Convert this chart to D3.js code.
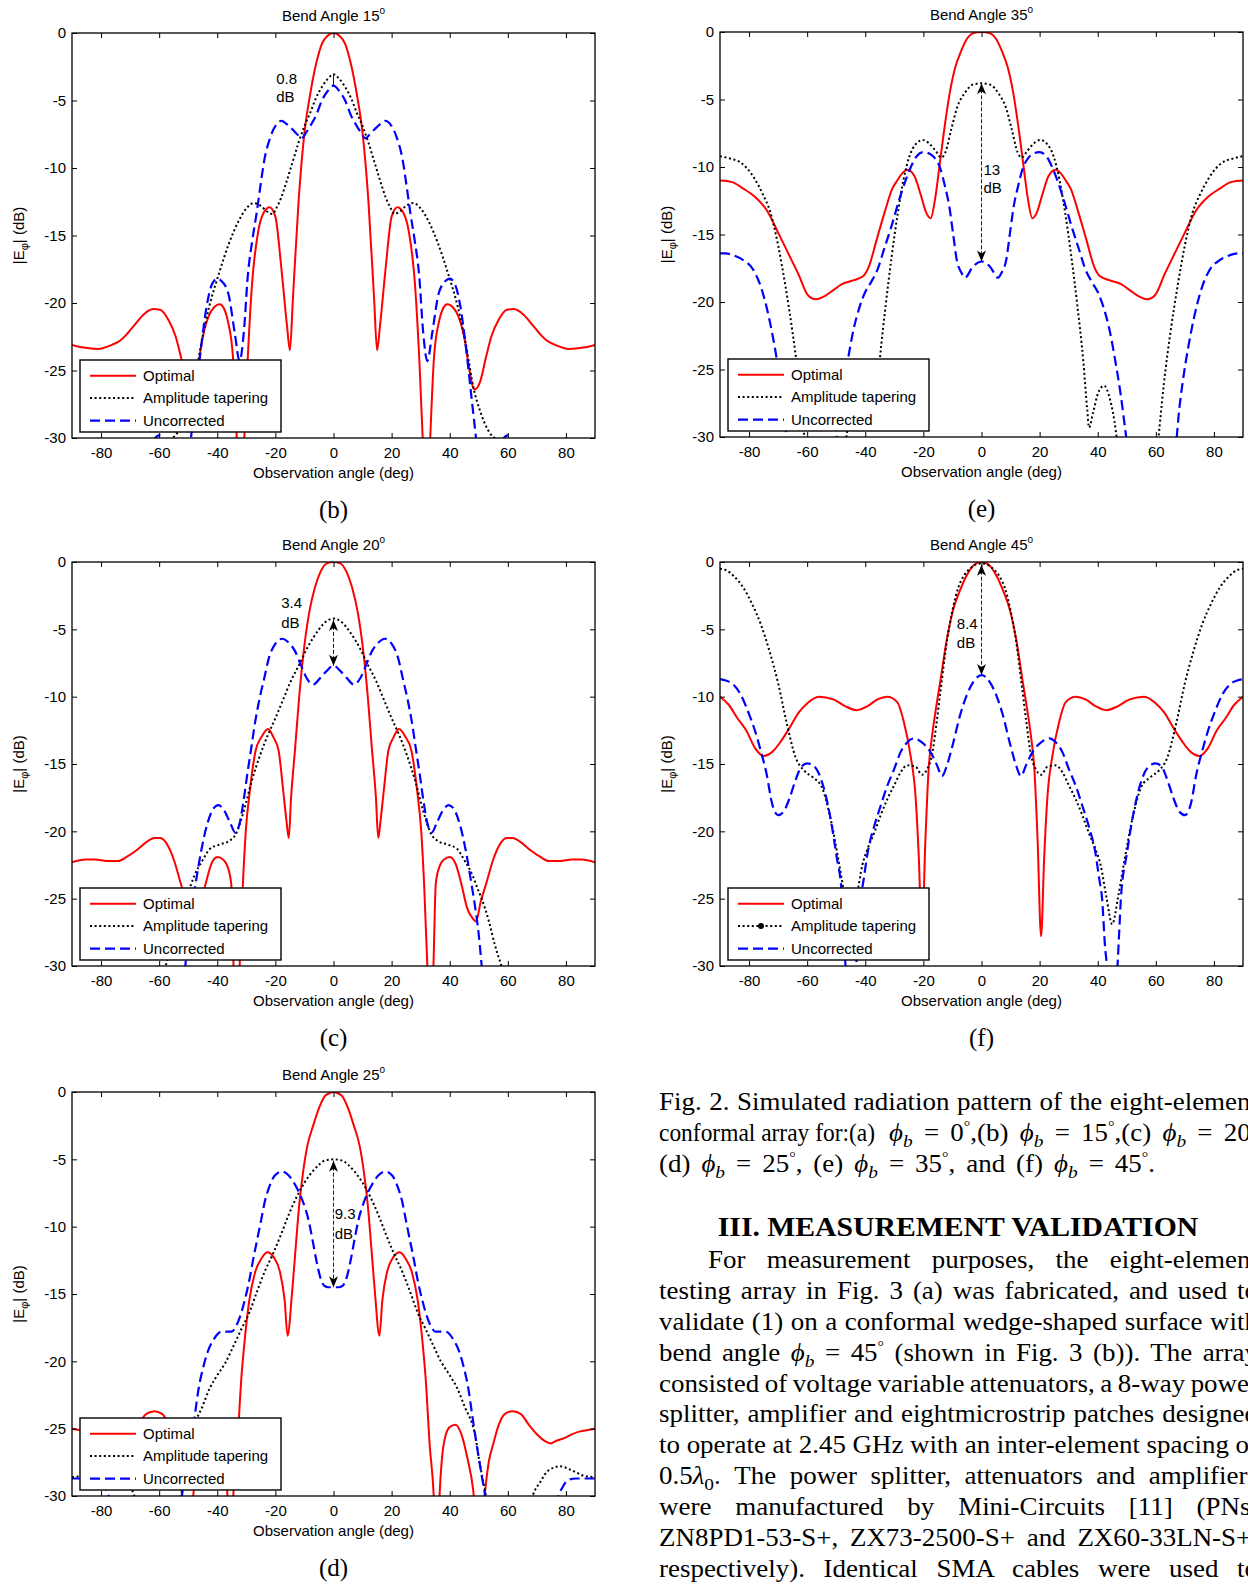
<!DOCTYPE html>
<html>
<head>
<meta charset="utf-8">
<script src="https://cdn.jsdelivr.net/npm/d3@7"></script>
<style>
  body { margin: 0; background: #fff; }
  svg text { font-family: "Liberation Sans", Arial, sans-serif; }
  svg text.serif, svg .serif text { font-family: "Liberation Serif", "Times New Roman", serif; }
</style>
</head>
<body>
<svg id="page" width="1248" height="1585"></svg>
<script>
/* axis ticks */
const xTicks = [-80, -60, -40, -20, 0, 20, 40, 60, 80];
const yTicks = [-30, -25, -20, -15, -10, -5, 0];
const legendNames = ["Optimal", "Amplitude tapering", "Uncorrected"];

/* Bend angle 15 (b)  [deg, dB] */
const optimal15 = [[-90,-23.1],[-86,-23.3],[-81,-23.4],[-76.3,-23.1],[-73.5,-22.8],[-71.5,-22.4],[-68.6,-21.65],[-65.6,-20.9],[-62,-20.45],[-59.7,-20.5],[-56.7,-21.3],[-54.3,-22.5],[-52.5,-24],[-50.5,-25.8],[-48.5,-26.4],[-46.5,-24.6],[-45.4,-23],[-43,-21],[-41,-20.3],[-39.2,-20.1],[-37.5,-20.5],[-36.4,-21.3],[-34.6,-24],[-33.3,-30],[-32,-38],[-30.7,-30],[-29.6,-24.5],[-28,-18.5],[-26,-14.8],[-24,-13.3],[-22,-12.9],[-20,-13.6],[-18,-17.3],[-16,-21.7],[-15,-23.5],[-14,-19.8],[-12,-12.4],[-10,-7.4],[-8,-4.5],[-6,-2.3],[-4,-0.8],[-2,-0.2],[0,0],[2,-0.2],[4,-0.8],[6,-2.3],[8,-4.5],[10,-7.4],[12,-12.4],[14,-19.8],[15,-23.5],[16,-21.7],[18,-17.3],[20,-13.6],[22,-12.9],[24,-13.3],[26,-14.8],[28,-18.5],[29.6,-24.5],[30.7,-30],[32,-38],[33.3,-30],[34.6,-24],[36.4,-21.3],[37.5,-20.5],[39.2,-20.1],[41,-20.3],[43,-21],[45.4,-23],[46.5,-24.6],[48.5,-26.4],[50.5,-25.8],[52.5,-24],[54.3,-22.5],[56.7,-21.3],[59.7,-20.5],[62,-20.45],[65.6,-20.9],[68.6,-21.65],[71.5,-22.4],[73.5,-22.8],[76.3,-23.1],[81,-23.4],[86,-23.3],[90,-23.1]];
const amplitude15 = [[-90,-45],[-70,-40],[-64,-33],[-60,-30.5],[-56,-30.1],[-53.7,-29.6],[-50.3,-27.9],[-48.3,-26.4],[-45.5,-23],[-42.8,-20.3],[-39.4,-17.8],[-36,-15.6],[-32.6,-13.9],[-30,-13],[-27.5,-12.6],[-25,-12.8],[-23,-13.2],[-21,-13.4],[-19.5,-12.9],[-18,-12.2],[-16,-10.9],[-14,-9.5],[-12,-8.1],[-10,-6.9],[-8,-5.9],[-6,-4.8],[-4,-4.0],[-2,-3.4],[0,-3.06],[2,-3.4],[4,-4.0],[6,-4.8],[8,-5.9],[10,-6.9],[12,-8.1],[14,-9.5],[16,-10.9],[18,-12.2],[19.5,-12.9],[21,-13.4],[23,-13.2],[25,-12.8],[27.5,-12.6],[30,-13],[32.6,-13.9],[36,-15.6],[39.4,-17.8],[42.8,-20.3],[45.5,-23],[48.3,-26.4],[50.3,-27.9],[53.7,-29.6],[56,-30.1],[60,-30.5],[64,-33],[70,-40],[90,-45]];
const uncorrected15 = [[-90,-45],[-70,-40],[-65,-33],[-62,-30.2],[-60,-29.8],[-58,-30.2],[-55,-33],[-52,-36],[-50,-32],[-49,-29.9],[-47.6,-27.2],[-45.7,-23.5],[-43.7,-20.3],[-41.8,-18.6],[-40,-18.2],[-38.9,-18.3],[-36.2,-19.3],[-34,-22.2],[-32.3,-24.3],[-30.8,-22],[-29.5,-18],[-27.9,-15.3],[-26.5,-13.4],[-25.2,-11.4],[-23.8,-9.4],[-21.7,-7.7],[-19.7,-6.8],[-17.8,-6.5],[-17,-6.6],[-14.3,-7.1],[-12.5,-7.5],[-11,-7.8],[-9.5,-7.4],[-7.5,-6.7],[-6,-6.1],[-4,-5.0],[-2,-4.3],[0,-3.9],[2,-4.3],[4,-5.0],[6,-6.1],[7.5,-6.7],[9.5,-7.4],[11,-7.8],[12.5,-7.5],[14.3,-7.1],[17,-6.6],[17.8,-6.5],[19.7,-6.8],[21.7,-7.7],[23.8,-9.4],[25.2,-11.4],[26.5,-13.4],[27.9,-15.3],[29.5,-18],[30.8,-22],[32.3,-24.3],[34,-22.2],[36.2,-19.3],[38.9,-18.3],[40,-18.2],[41.8,-18.6],[43.7,-20.3],[45.7,-23.5],[47.6,-27.2],[49,-29.9],[50,-32],[52,-36],[55,-33],[58,-30.2],[60,-29.8],[62,-30.2],[65,-33],[70,-40],[90,-45]];

/* Bend angle 20 (c) */
const optimal20 = [[-90,-22.3],[-85.4,-22.1],[-82,-22.1],[-78,-22.2],[-74,-22.2],[-71.2,-21.9],[-67.8,-21.4],[-64.4,-20.8],[-61.6,-20.5],[-59.6,-20.5],[-56.9,-21.1],[-54.8,-22.2],[-52.8,-23.7],[-50.7,-25.2],[-49,-26.7],[-48,-26.5],[-46,-25.7],[-44,-23.9],[-42,-22.4],[-40,-21.9],[-38,-22.1],[-36.5,-22.6],[-35.2,-23.9],[-34.4,-30],[-33.3,-36],[-32.3,-30],[-31.2,-24],[-30.2,-20],[-28.8,-17],[-26.8,-14],[-24.8,-13],[-22.5,-12.4],[-20.7,-13],[-18.9,-14],[-17.3,-17],[-16.2,-19.2],[-15.4,-20.5],[-14.6,-17.5],[-13.2,-13.8],[-11.8,-10],[-10.5,-7.1],[-8.4,-3.8],[-6.4,-1.9],[-4.4,-0.7],[-2.3,-0.1],[0,0],[2.3,-0.1],[4.4,-0.7],[6.4,-1.9],[8.4,-3.8],[10.5,-7.1],[11.8,-10],[13.2,-13.8],[14.6,-17.5],[15.4,-20.5],[16.2,-19.2],[17.3,-17],[18.9,-14],[20.7,-13],[22.5,-12.4],[24.8,-13],[26.8,-14],[28.8,-17],[30.2,-20],[31.2,-24],[32.3,-30],[33.3,-36],[34.4,-30],[35.2,-23.9],[36.5,-22.6],[38,-22.1],[40,-21.9],[42,-22.4],[44,-23.9],[46,-25.7],[48,-26.5],[49,-26.7],[50.7,-25.2],[52.8,-23.7],[54.8,-22.2],[56.9,-21.1],[59.6,-20.5],[61.6,-20.5],[64.4,-20.8],[67.8,-21.4],[71.2,-21.9],[74,-22.2],[78,-22.2],[82,-22.1],[85.4,-22.1],[90,-22.3]];
const amplitude20 = [[-90,-45],[-65,-35],[-60,-31.5],[-57.8,-30],[-55.5,-28.4],[-53.5,-26.7],[-51,-25],[-49.5,-24.2],[-47.9,-23.3],[-45.2,-22.2],[-42.5,-21.3],[-39.5,-21],[-35.8,-20.7],[-33.6,-20.2],[-30.9,-18.5],[-28.2,-16.3],[-25.2,-14.3],[-22.5,-12.8],[-20,-11.6],[-17.3,-10.2],[-14.6,-8.8],[-11.5,-7.5],[-9.1,-6.4],[-7.2,-5.7],[-5,-5.0],[-3,-4.5],[0,-4.2],[3,-4.5],[5,-5.0],[7.2,-5.7],[9.1,-6.4],[11.5,-7.5],[14.6,-8.8],[17.3,-10.2],[20,-11.6],[22.5,-12.8],[25.2,-14.3],[28.2,-16.3],[30.9,-18.5],[33.6,-20.2],[35.8,-20.7],[39.5,-21],[42.5,-21.3],[45.2,-22.2],[47.9,-23.3],[49.5,-24.2],[51,-25],[53.5,-26.7],[55.5,-28.4],[57.8,-30],[60,-31.5],[65,-35],[90,-45]];
const uncorrected20 = [[-90,-45],[-55,-40],[-52.5,-34],[-51,-30],[-49.9,-27.5],[-48.8,-25.7],[-47.4,-23.8],[-45.5,-21.4],[-43.5,-19.5],[-41.3,-18.3],[-39.6,-18.05],[-37.5,-18.5],[-35.5,-19.4],[-33.8,-20.1],[-32.3,-19.4],[-31,-17.8],[-29.7,-15.8],[-28.3,-13.8],[-26.9,-11.8],[-25.5,-10.2],[-23.8,-8.6],[-22.2,-7.1],[-20.1,-6.1],[-17.7,-5.7],[-15.4,-6.0],[-13.3,-6.6],[-11.3,-7.6],[-9.3,-8.6],[-7,-9.1],[-4.5,-8.6],[-2.4,-8.1],[0,-7.7],[2.4,-8.1],[4.5,-8.6],[7,-9.1],[9.3,-8.6],[11.3,-7.6],[13.3,-6.6],[15.4,-6.0],[17.7,-5.7],[20.1,-6.1],[22.2,-7.1],[23.8,-8.6],[25.5,-10.2],[26.9,-11.8],[28.3,-13.8],[29.7,-15.8],[31,-17.8],[32.3,-19.4],[33.8,-20.1],[35.5,-19.4],[37.5,-18.5],[39.6,-18.05],[41.3,-18.3],[43.5,-19.5],[45.5,-21.4],[47.4,-23.8],[48.8,-25.7],[49.9,-27.5],[51,-30],[52.5,-34],[55,-40],[90,-45]];

/* Bend angle 25 (d) */
const optimal25 = [[-90,-25],[-87.6,-25.1],[-84.9,-25.2],[-82.2,-25.4],[-79.4,-25.7],[-76.7,-25.9],[-74.7,-26.1],[-72.6,-25.9],[-69.9,-25.4],[-67.2,-24.7],[-64.4,-23.9],[-61.7,-23.7],[-59,-23.9],[-56.9,-24.7],[-54.9,-26.2],[-53.5,-27.4],[-52.2,-29.6],[-50.8,-33],[-49.5,-33],[-48.1,-29.6],[-46,-27.1],[-44,-25.4],[-42,-24.7],[-39.9,-24.9],[-37.9,-26.2],[-36.5,-30],[-35.5,-36],[-34.5,-30],[-33.1,-26.2],[-31.7,-21.2],[-30.6,-18.5],[-29,-15.5],[-27,-13.4],[-24.9,-12.4],[-22.8,-11.9],[-20.5,-12.3],[-18.5,-13.3],[-16.8,-15.5],[-15.8,-18.1],[-14.3,-15],[-13,-11.5],[-11.8,-8.4],[-10.5,-6.0],[-9,-4.0],[-7,-2.5],[-5,-1.2],[-3,-0.3],[-1.5,-0.1],[0,0],[1.5,-0.1],[3,-0.3],[5,-1.2],[7,-2.5],[9,-4.0],[10.5,-6.0],[11.8,-8.4],[13,-11.5],[14.3,-15],[15.8,-18.1],[16.8,-15.5],[18.5,-13.3],[20.5,-12.3],[22.8,-11.9],[24.9,-12.4],[27,-13.4],[29,-15.5],[30.6,-18.5],[31.7,-21.2],[33.1,-26.2],[34.5,-30],[35.5,-36],[36.5,-30],[37.9,-26.2],[39.9,-24.9],[42,-24.7],[44,-25.4],[46,-27.1],[48.1,-29.6],[49.5,-33],[50.8,-33],[52.2,-29.6],[53.5,-27.4],[54.9,-26.2],[56.9,-24.7],[59,-23.9],[61.7,-23.7],[64.4,-23.9],[67.2,-24.7],[69.9,-25.4],[72.6,-25.9],[74.7,-26.1],[76.7,-25.9],[79.4,-25.7],[82.2,-25.4],[84.9,-25.2],[87.6,-25.1],[90,-25]];
const amplitude25 = [[-90,-28.6],[-86.2,-28.5],[-82.1,-28.1],[-78,-27.8],[-74,-28.1],[-71.3,-28.9],[-68.5,-30],[-65,-33],[-60,-36],[-55,-33],[-52.5,-30],[-51.5,-28.9],[-50.1,-27.3],[-48.8,-25.5],[-47.5,-24.5],[-45.4,-23.5],[-42.6,-22],[-39.9,-21],[-37.2,-20.1],[-34.5,-18.9],[-31.7,-17.6],[-29,-16.4],[-26.3,-14.8],[-23.6,-13.3],[-20.8,-12],[-18.1,-10.6],[-15.4,-9.1],[-12.7,-7.8],[-9.9,-6.7],[-7.2,-5.9],[-5,-5.4],[-3.1,-5.1],[0,-5.0],[3.1,-5.1],[5,-5.4],[7.2,-5.9],[9.9,-6.7],[12.7,-7.8],[15.4,-9.1],[18.1,-10.6],[20.8,-12],[23.6,-13.3],[26.3,-14.8],[29,-16.4],[31.7,-17.6],[34.5,-18.9],[37.2,-20.1],[39.9,-21],[42.6,-22],[45.4,-23.5],[47.5,-24.5],[48.8,-25.5],[50.1,-27.3],[51.5,-28.9],[52.5,-30],[55,-33],[60,-36],[65,-33],[68.5,-30],[71.3,-28.9],[74,-28.1],[78,-27.8],[82.1,-28.1],[86.2,-28.5],[90,-28.6]];
const uncorrected25 = [[-90,-28.7],[-83.5,-28.7],[-80.8,-28.8],[-78.7,-29.4],[-77.4,-30],[-74,-36],[-65,-40],[-55,-36],[-52.2,-30],[-51.1,-28.6],[-49.5,-26.5],[-47.6,-23.8],[-46.4,-22],[-44.9,-20.5],[-43.3,-19.3],[-41.3,-18.4],[-38.6,-17.8],[-35.1,-17.8],[-33.8,-17.5],[-32.2,-16.7],[-30.6,-15.5],[-29,-14],[-27.7,-12.5],[-26.3,-11],[-24.9,-9.5],[-23.6,-8.1],[-22.2,-7.1],[-20.2,-6.2],[-17.8,-5.9],[-15.4,-6.2],[-12.7,-7.1],[-10.6,-8.1],[-8.6,-9.5],[-7.2,-11],[-5.9,-12.5],[-4.5,-13.8],[-3.1,-14.4],[-1.8,-14.5],[0,-14.5],[1.8,-14.5],[3.1,-14.4],[4.5,-13.8],[5.9,-12.5],[7.2,-11],[8.6,-9.5],[10.6,-8.1],[12.7,-7.1],[15.4,-6.2],[17.8,-5.9],[20.2,-6.2],[22.2,-7.1],[23.6,-8.1],[24.9,-9.5],[26.3,-11],[27.7,-12.5],[29,-14],[30.6,-15.5],[32.2,-16.7],[33.8,-17.5],[35.1,-17.8],[38.6,-17.8],[41.3,-18.4],[43.3,-19.3],[44.9,-20.5],[46.4,-22],[47.6,-23.8],[49.5,-26.5],[51.1,-28.6],[52.2,-30],[55,-36],[65,-40],[74,-36],[77.4,-30],[78.7,-29.4],[80.8,-28.8],[83.5,-28.7],[90,-28.7]];

/* Bend angle 35 (e) */
const optimal35 = [[-90,-11],[-86.1,-11.1],[-82,-11.6],[-78,-12.2],[-73.9,-13.2],[-69.9,-14.9],[-66.5,-16.4],[-63.1,-17.9],[-59.7,-19.5],[-57,-19.8],[-54.3,-19.6],[-50.9,-19.1],[-48.2,-18.7],[-44.2,-18.4],[-40.8,-18.1],[-38.8,-17.4],[-36.1,-15.4],[-33.4,-13.4],[-30.7,-11.6],[-29,-11],[-27,-10.4],[-25.5,-10.2],[-23,-10.7],[-21,-12],[-19,-13.4],[-17.5,-13.8],[-16,-12.4],[-14.5,-10],[-13,-7.5],[-11,-4.6],[-9,-2.6],[-7,-1.4],[-5,-0.5],[-3,-0.1],[0,0],[3,-0.1],[5,-0.5],[7,-1.4],[9,-2.6],[11,-4.6],[13,-7.5],[14.5,-10],[16,-12.4],[17.5,-13.8],[19,-13.4],[21,-12],[23,-10.7],[25.5,-10.2],[27,-10.4],[29,-11],[30.7,-11.6],[33.4,-13.4],[36.1,-15.4],[38.8,-17.4],[40.8,-18.1],[44.2,-18.4],[48.2,-18.7],[50.9,-19.1],[54.3,-19.6],[57,-19.8],[59.7,-19.5],[63.1,-17.9],[66.5,-16.4],[69.9,-14.9],[73.9,-13.2],[78,-12.2],[82,-11.6],[86.1,-11.1],[90,-11]];
const amplitude35 = [[-90,-9.2],[-86.1,-9.4],[-83.4,-9.6],[-80.7,-10.1],[-78,-10.9],[-75.3,-12],[-72.6,-13.4],[-70,-15.8],[-67.5,-18.8],[-65,-22.3],[-62.8,-26],[-61.3,-29.2],[-60.5,-31],[-58,-36],[-55,-40],[-50,-38],[-47.5,-32],[-46.2,-29.5],[-44.2,-27.2],[-42.2,-26.2],[-40.2,-26.7],[-38.4,-28.2],[-37,-29.3],[-36.4,-28],[-35,-24.3],[-32.9,-20.1],[-30.9,-16.6],[-28.8,-13.4],[-26.8,-10.9],[-24.8,-9.2],[-22.6,-8.3],[-20.2,-8.0],[-17.8,-8.3],[-15.8,-8.8],[-13.8,-9.3],[-12.4,-8.9],[-10.4,-7.2],[-8.4,-5.6],[-5.7,-4.5],[-3,-3.9],[0,-3.8],[3,-3.9],[5.7,-4.5],[8.4,-5.6],[10.4,-7.2],[12.4,-8.9],[13.8,-9.3],[15.8,-8.8],[17.8,-8.3],[20.2,-8.0],[22.6,-8.3],[24.8,-9.2],[26.8,-10.9],[28.8,-13.4],[30.9,-16.6],[32.9,-20.1],[35,-24.3],[36.4,-28],[37,-29.3],[38.4,-28.2],[40.2,-26.7],[42.2,-26.2],[44.2,-27.2],[46.2,-29.5],[47.5,-32],[50,-38],[55,-40],[58,-36],[60.5,-31],[61.3,-29.2],[62.8,-26],[65,-22.3],[67.5,-18.8],[70,-15.8],[72.6,-13.4],[75.3,-12],[78,-10.9],[80.7,-10.1],[83.4,-9.6],[86.1,-9.4],[90,-9.2]];
const uncorrected35 = [[-90,-16.4],[-88.1,-16.4],[-84.7,-16.6],[-82,-16.9],[-78.6,-17.6],[-75.9,-18.9],[-73.2,-21.1],[-71.2,-23.3],[-69.2,-26],[-67.8,-28.5],[-67.2,-30],[-65,-35],[-58,-40],[-52,-35],[-50.4,-31],[-49.5,-29.5],[-48,-27],[-46,-24.3],[-44,-22],[-42,-20.4],[-40.1,-19.3],[-38.2,-18.6],[-35.8,-17.6],[-33.4,-16],[-31,-14.4],[-28.7,-12.7],[-26.3,-11.1],[-24.3,-10],[-22.3,-9.2],[-20,-8.9],[-18,-9.0],[-16.2,-9.3],[-14.2,-10.1],[-12.5,-11.5],[-11.1,-12.9],[-9.8,-14.9],[-8.5,-16.9],[-7,-17.8],[-5.7,-18.2],[-3,-17.4],[0,-17],[3,-17.4],[5.7,-18.2],[7,-17.8],[8.5,-16.9],[9.8,-14.9],[11.1,-12.9],[12.5,-11.5],[14.2,-10.1],[16.2,-9.3],[18,-9.0],[20,-8.9],[22.3,-9.2],[24.3,-10],[26.3,-11.1],[28.7,-12.7],[31,-14.4],[33.4,-16],[35.8,-17.6],[38.2,-18.6],[40.1,-19.3],[42,-20.4],[44,-22],[46,-24.3],[48,-27],[49.5,-29.5],[50.4,-31],[52,-35],[58,-40],[65,-35],[67.2,-30],[67.8,-28.5],[69.2,-26],[71.2,-23.3],[73.2,-21.1],[75.9,-18.9],[78.6,-17.6],[82,-16.9],[84.7,-16.6],[88.1,-16.4],[90,-16.4]];

/* Bend angle 45 (f) */
const optimal45 = [[-90,-10],[-87,-10.6],[-84,-11.6],[-81,-12.5],[-78,-13.8],[-75,-14.4],[-72,-14.1],[-69,-13.3],[-66,-12.3],[-63,-11.2],[-60,-10.5],[-56,-10],[-51,-10.2],[-47,-10.7],[-43,-11],[-39.2,-10.7],[-35.8,-10.2],[-32.4,-10],[-29,-10.4],[-26.7,-11.9],[-24.4,-14.4],[-22.7,-17.4],[-21.6,-21.8],[-20.5,-27.8],[-19.3,-20.6],[-18.2,-15.4],[-17,-12.9],[-15.9,-11.2],[-14.2,-8.9],[-11.9,-5.7],[-9.7,-3.5],[-7.4,-2.1],[-5.1,-1.0],[-2.5,-0.2],[0,0],[2.5,-0.2],[5.1,-1.0],[7.4,-2.1],[9.7,-3.5],[11.9,-5.7],[14.2,-8.9],[15.9,-11.2],[17,-12.9],[18.2,-15.4],[19.3,-20.6],[20.5,-27.8],[21.6,-21.8],[22.7,-17.4],[24.4,-14.4],[26.7,-11.9],[29,-10.4],[32.4,-10],[35.8,-10.2],[39.2,-10.7],[43,-11],[47,-10.7],[51,-10.2],[56,-10],[60,-10.5],[63,-11.2],[66,-12.3],[69,-13.3],[72,-14.1],[75,-14.4],[78,-13.8],[81,-12.5],[84,-11.6],[87,-10.6],[90,-10]];
const amplitude45 = [[-90,-0.5],[-88,-0.6],[-85,-1.1],[-82,-1.9],[-79,-3.1],[-76,-4.6],[-73,-6.6],[-70,-9],[-67,-12],[-64,-14.5],[-61,-15.5],[-58,-16],[-55,-16.7],[-52,-19],[-49,-22.4],[-47,-24.9],[-45,-26.9],[-43,-24.9],[-41,-22.5],[-39.2,-21.3],[-36.9,-20.1],[-34.7,-18.8],[-32.4,-17.6],[-30.1,-16.6],[-27.8,-15.6],[-25.6,-15.1],[-22.7,-15.2],[-20.5,-15.8],[-18.75,-15.4],[-17,-14.3],[-15.5,-12],[-14,-9.4],[-12,-6.0],[-10,-3.6],[-8,-1.9],[-6,-1.0],[-4,-0.5],[-2,-0.2],[0,-0.1],[2,-0.2],[4,-0.5],[6,-1.0],[8,-1.9],[10,-3.6],[12,-6.0],[14,-9.4],[15.5,-12],[17,-14.3],[18.75,-15.4],[20.5,-15.8],[22.7,-15.2],[25.6,-15.1],[27.8,-15.6],[30.1,-16.6],[32.4,-17.6],[34.7,-18.8],[36.9,-20.1],[39.2,-21.3],[41,-22.5],[43,-24.9],[45,-26.9],[47,-24.9],[49,-22.4],[52,-19],[55,-16.7],[58,-16],[61,-15.5],[64,-14.5],[67,-12],[70,-9],[73,-6.6],[76,-4.6],[79,-3.1],[82,-1.9],[85,-1.1],[88,-0.6],[90,-0.5]];
const uncorrected45 = [[-90,-8.7],[-88,-8.8],[-86,-9],[-83,-9.8],[-80,-11.3],[-78,-12.5],[-76,-14],[-74,-15.7],[-72,-18],[-70,-18.8],[-68,-18.5],[-66,-17.5],[-64,-16.2],[-62,-15.2],[-60,-14.95],[-58,-15.1],[-56,-15.7],[-54,-17],[-52,-19],[-50,-21.7],[-48,-24.9],[-47.5,-27],[-46.8,-30],[-45,-34],[-43.2,-30],[-42.5,-28.5],[-41.5,-25],[-40.5,-23.5],[-39.2,-21.6],[-36.9,-19.6],[-34.7,-18.1],[-32.4,-16.6],[-30.1,-15.4],[-27.8,-14.1],[-25.6,-13.4],[-23.3,-13.1],[-20.5,-13.4],[-17.6,-14.1],[-15.3,-15.1],[-13.6,-15.9],[-11.9,-15.1],[-9.7,-13.4],[-7.4,-11.4],[-5.1,-9.9],[-2.8,-8.9],[0,-8.4],[2.8,-8.9],[5.1,-9.9],[7.4,-11.4],[9.7,-13.4],[11.9,-15.1],[13.6,-15.9],[15.3,-15.1],[17.6,-14.1],[20.5,-13.4],[23.3,-13.1],[25.6,-13.4],[27.8,-14.1],[30.1,-15.4],[32.4,-16.6],[34.7,-18.1],[36.9,-19.6],[39.2,-21.6],[40.5,-23.5],[41.5,-25],[42.5,-28.5],[43.2,-30],[45,-34],[46.8,-30],[47.5,-27],[48,-24.9],[50,-21.7],[52,-19],[54,-17],[56,-15.7],[58,-15.1],[60,-14.95],[62,-15.2],[64,-16.2],[66,-17.5],[68,-18.5],[70,-18.8],[72,-18],[74,-15.7],[76,-14],[78,-12.5],[80,-11.3],[83,-9.8],[86,-9],[88,-8.8],[90,-8.7]];

/* difference annotations: label, text anchor [deg, dB], arrow ends [dB] */
const notes = {
  b: { label: "0.8", at: [-19.7, -3.4], dbAt: -4.7, arrow: [-3.1, -3.9], heads: false },
  c: { label: "3.4", at: [-18, -3.05], dbAt: -4.5, arrow: [-4.3, -7.7], heads: true },
  d: { label: "9.3", at: [0.4, -9.05], dbAt: -10.5, arrow: [-5.1, -14.5], heads: true },
  e: { label: "13", at: [0.7, -10.2], dbAt: -11.5, arrow: [-3.8, -17], heads: true },
  f: { label: "8.4", at: [-8.5, -4.6], dbAt: -6, arrow: [-0.2, -8.4], heads: true }
};

const panels = [
  { id: "b", angle: 15, x: 72, y: 33, w: 523, h: 405, series: [optimal15, amplitude15, uncorrected15] },
  { id: "e", angle: 35, x: 720, y: 32, w: 523, h: 405, series: [optimal35, amplitude35, uncorrected35] },
  { id: "c", angle: 20, x: 72, y: 562, w: 523, h: 404, series: [optimal20, amplitude20, uncorrected20] },
  { id: "f", angle: 45, x: 720, y: 562, w: 523, h: 404, series: [optimal45, amplitude45, uncorrected45], marker: true },
  { id: "d", angle: 25, x: 72, y: 1092, w: 523, h: 404, series: [optimal25, amplitude25, uncorrected25] }
];

const styles = [
  { stroke: "#ff0000", width: 2, dash: null },
  { stroke: "#000000", width: 2, dash: "2,2.6" },
  { stroke: "#0000ff", width: 2.2, dash: "10,5" }
];

const svg = d3.select("#page");
svg.append("rect").attr("width", 1248).attr("height", 1585).attr("fill", "#fff");
const defs = svg.append("defs");

function arrowHead(g, x, y, down) {
  g.append("path")
    .attr("d", "M0,0 L-4.5,11 L0,8 L4.5,11 Z")
    .attr("transform", `translate(${x},${y}) rotate(${down ? 180 : 0})`)
    .attr("fill", "#000");
}

function drawPanel(p) {
  const x = d3.scaleLinear().domain([-90, 90]).range([p.x, p.x + p.w]);
  const y = d3.scaleLinear().domain([-30, 0]).range([p.y + p.h, p.y]);
  const g = svg.append("g");

  defs.append("clipPath").attr("id", "clip-" + p.id)
    .append("rect").attr("x", p.x).attr("y", p.y).attr("width", p.w).attr("height", p.h);

  /* curves */
  const line = d3.line().x(d => x(d[0])).y(d => y(d[1])).curve(d3.curveMonotoneX);
  const plot = g.append("g").attr("clip-path", `url(#clip-${p.id})`);
  p.series.forEach((s, i) => {
    plot.append("path").datum(s)
      .attr("d", line)
      .attr("fill", "none")
      .attr("stroke", styles[i].stroke)
      .attr("stroke-width", styles[i].width)
      .attr("stroke-dasharray", styles[i].dash)
      .attr("stroke-linejoin", "round");
  });

  /* axes, ticks pointing inward on all four sides */
  const fmt = d => String(d);
  const axes = [
    g.append("g").attr("transform", `translate(0,${p.y + p.h})`)
      .call(d3.axisBottom(x).tickValues(xTicks).tickSizeInner(-5).tickSizeOuter(0).tickPadding(9).tickFormat(fmt)),
    g.append("g").attr("transform", `translate(0,${p.y})`)
      .call(d3.axisTop(x).tickValues(xTicks).tickSizeInner(-5).tickSizeOuter(0).tickFormat("")),
    g.append("g").attr("transform", `translate(${p.x},0)`)
      .call(d3.axisLeft(y).tickValues(yTicks).tickSizeInner(-5).tickSizeOuter(0).tickPadding(6).tickFormat(fmt)),
    g.append("g").attr("transform", `translate(${p.x + p.w},0)`)
      .call(d3.axisRight(y).tickValues(yTicks).tickSizeInner(-5).tickSizeOuter(0).tickFormat(""))
  ];
  axes.forEach(a => {
    a.attr("font-family", null).attr("font-size", 15);
    a.select(".domain").remove();
    a.selectAll(".tick line").attr("stroke", "#000").attr("stroke-width", 1);
    a.selectAll(".tick text").attr("fill", "#000");
  });
  g.append("rect").attr("x", p.x).attr("y", p.y).attr("width", p.w).attr("height", p.h)
    .attr("fill", "none").attr("stroke", "#000").attr("stroke-width", 1.3);

  /* title */
  const t = g.append("text").attr("x", p.x + p.w / 2).attr("y", p.y - 12)
    .attr("text-anchor", "middle").attr("font-size", 15);
  t.append("tspan").text("Bend Angle " + p.angle);
  t.append("tspan").attr("font-size", 10).attr("dy", -7).text("o");

  /* axis labels */
  g.append("text").attr("x", p.x + p.w / 2).attr("y", p.y + p.h + 40)
    .attr("text-anchor", "middle").attr("font-size", 15).text("Observation angle (deg)");
  const yl = g.append("text")
    .attr("transform", `translate(${p.x - 48},${p.y + p.h / 2}) rotate(-90)`)
    .attr("text-anchor", "middle").attr("font-size", 15);
  yl.append("tspan").text("|E");
  yl.append("tspan").attr("font-size", 11).attr("dy", 4).text("\u03c6");
  yl.append("tspan").attr("dy", -4).text("| (dB)");

  g.append("text").attr("class", "serif").attr("x", p.x + p.w / 2).attr("y", p.y + p.h + 80)
    .attr("text-anchor", "middle").attr("font-size", 25).text(`(${p.id})`);

  /* difference annotation */
  const n = notes[p.id];
  g.append("line").attr("x1", x(0)).attr("x2", x(0))
    .attr("y1", y(n.arrow[0])).attr("y2", y(n.arrow[1]))
    .attr("stroke", "#000").attr("stroke-width", 0.9).attr("stroke-dasharray", n.heads ? "4,2" : null);
  if (n.heads) {
    arrowHead(g, x(0), y(n.arrow[0]), false);
    arrowHead(g, x(0), y(n.arrow[1]), true);
  }
  g.append("text").attr("x", x(n.at[0])).attr("y", y(n.at[1])).attr("dy", "0.35em")
    .attr("font-size", 15).text(n.label);
  g.append("text").attr("x", x(n.at[0])).attr("y", y(n.dbAt)).attr("dy", "0.35em")
    .attr("font-size", 15).text("dB");

  /* legend */
  const lx = p.x + 8, lw = 201, lh = 72, ly = p.y + p.h - 6 - lh;
  const lg = g.append("g");
  lg.append("rect").attr("x", lx).attr("y", ly).attr("width", lw).attr("height", lh)
    .attr("fill", "#fff").attr("stroke", "#000").attr("stroke-width", 1.4);
  const rowY = [15.7, 38, 60.7];
  legendNames.forEach((name, i) => {
    lg.append("line").attr("x1", lx + 10).attr("x2", lx + 56)
      .attr("y1", ly + rowY[i]).attr("y2", ly + rowY[i])
      .attr("stroke", styles[i].stroke).attr("stroke-width", styles[i].width)
      .attr("stroke-dasharray", styles[i].dash);
    if (i === 1 && p.marker) {
      lg.append("circle").attr("cx", lx + 33).attr("cy", ly + rowY[i]).attr("r", 3).attr("fill", "#000");
    }
    lg.append("text").attr("x", lx + 63).attr("y", ly + rowY[i]).attr("dy", "0.35em")
      .attr("font-size", 15).text(name);
  });
}

panels.forEach(drawPanel);

/* ---------- paper text at the lower right ---------- */
const colLeft = 659, colRight = 1258, sx = 1.1;
const bodyLines = [
  "For measurement purposes, the eight-element",
  "testing array in Fig. 3 (a) was fabricated, and used to",
  "validate (1) on a conformal wedge-shaped surface with",
  "bend angle {\u03d5}_b = 45^\u00b0 (shown in Fig. 3 (b)). The array",
  "consisted of voltage variable attenuators, a 8-way power",
  "splitter, amplifier and eightmicrostrip patches designed",
  "to operate at 2.45 GHz with an inter-element spacing of",
  "0.5{\u03bb}_0. The power splitter, attenuators and amplifiers",
  "were manufactured by Mini-Circuits [11] (PNs:",
  "ZN8PD1-53-S+, ZX73-2500-S+ and ZX60-33LN-S+,",
  "respectively). Identical SMA cables were used to"
];

const tg = svg.append("g").attr("class", "serif")
  .attr("transform", `translate(${colLeft},0) scale(${sx},1)`);
const fs = 24.5;

function richText(x, yb, src, size) {
  const t = tg.append("text").attr("x", x).attr("y", yb).attr("font-size", size).attr("fill", "#000");
  const re = /\{([^}]*)\}|_(.)|\^(.)|([^{_^]+)/g;
  let m, shift = 0;
  while ((m = re.exec(src)) !== null) {
    const sp = t.append("tspan");
    let dy = 0;
    if (m[1] !== undefined) { sp.attr("font-style", "italic").text(m[1]); dy = -shift; shift = 0; }
    else if (m[2] !== undefined) {
      sp.attr("font-size", size * 0.72).text(m[2]);
      if (/[a-z]/i.test(m[2])) sp.attr("font-style", "italic");
      dy = 6 - shift; shift = 6;
    } else if (m[3] !== undefined) { sp.attr("font-size", size * 0.6).text(m[3]); dy = -10 - shift; shift = -10; }
    else { sp.text(m[4]); dy = -shift; shift = 0; }
    if (dy) sp.attr("dy", dy);
  }
  return t;
}

function justify(t, width) {
  const node = t.node();
  const natural = node.getComputedTextLength();
  const spaces = (node.textContent.match(/ /g) || []).length;
  if (spaces > 0) t.style("word-spacing", ((width - natural) / spaces) + "px");
}

const fullW = (colRight - colLeft) / sx;

/* caption */
justify(richText(0, 1110, "Fig. 2. Simulated radiation pattern of the eight-element", fs), fullW);
tg.append("text").attr("x", 0).attr("y", 1141).attr("font-size", fs)
  .attr("textLength", (875 - colLeft) / sx).attr("lengthAdjust", "spacingAndGlyphs")
  .text("conformal array for:(a)");
justify(richText((889 - colLeft) / sx, 1141,
  "{\u03d5}_b = 0^\u00b0,(b) {\u03d5}_b = 15^\u00b0,(c) {\u03d5}_b = 20^\u00b0,", fs), (1264 - 889) / sx);
justify(richText(0, 1172,
  "(d) {\u03d5}_b = 25^\u00b0, (e) {\u03d5}_b = 35^\u00b0, and (f) {\u03d5}_b = 45^\u00b0.", fs), (1155 - colLeft) / sx);

tg.append("text").attr("x", (958 - colLeft) / sx).attr("y", 1236).attr("text-anchor", "middle")
  .attr("font-size", 27).attr("font-weight", "bold").text("III. MEASUREMENT VALIDATION");

bodyLines.forEach((s, i) => {
  const indent = i === 0 ? (708 - colLeft) / sx : 0;
  const t = richText(indent, 1268 + i * 30.9, s, fs);
  justify(t, fullW - indent);
});
</script>
</body>
</html>
